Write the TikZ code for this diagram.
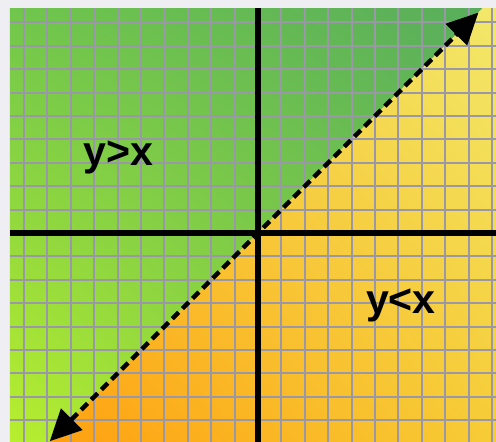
\documentclass[tikz,border=0pt]{standalone}
\usepackage{fontspec}
\newfontfamily\regionfont{Liberation Sans}
\usetikzlibrary{arrows.meta, shadings}

\definecolor{backdrop}{HTML}{EEEEF3}
\definecolor{gridgray}{HTML}{9A98A6}
\definecolor{greendark}{HTML}{58AD5C}
\definecolor{greenmid}{HTML}{70C64C}
\definecolor{greenlime}{HTML}{B8EE2E}
\definecolor{yellowpale}{HTML}{F2E86A}
\definecolor{yellowmid}{HTML}{F6CC36}
\definecolor{orangedeep}{HTML}{FFA010}

\begin{document}
\begin{tikzpicture}[
    x=0.5cm, y=0.5cm,
    gridline/.style={draw=gridgray, line width=1.3pt},
    axis/.style={draw=black, line width=3.6pt},
    boundary/.style={
        {Triangle[length=19pt, width=18pt]}-{Triangle[length=19pt, width=18pt]},
        draw=black, line width=2.6pt, dash pattern=on 5.5pt off 3.2pt
    },
    region/.style={
        font=\regionfont\bfseries\fontsize{25}{25}\selectfont,
        text=black, anchor=base
    }
]
% frame of the picture
\fill[backdrop] (-11.026,-8.932) rectangle (10.171,9.957);
\useasboundingbox (-11.026,-8.932) rectangle (10.171,9.957);

\coordinate (nw) at (-10.6,9.615);
\coordinate (se) at (10.171,-8.932);
\coordinate (ytop) at (0,9.615);
\coordinate (ybot) at (0,-8.932);
\coordinate (xleft) at (-10.6,0);
\coordinate (xright) at (10.171,0);
\coordinate (lo) at (-8.9,-8.9);
\coordinate (hi) at (9.42,9.42);

\begin{scope}
\clip (nw) rectangle (se);
% y > x half
\shade[upper left=greenmid, upper right=greendark,
       lower left=greenlime, lower right=greenmid]
    (-10.6,9.615) -- (9.615,9.615) -- (-8.932,-8.932)
    -- (-10.6,-8.932) -- cycle;
% y < x half
\shade[upper left=yellowmid, upper right=yellowpale,
       lower left=orangedeep, lower right=yellowmid]
    (9.615,9.615) -- (10.171,9.615) -- (10.171,-8.932)
    -- (-8.932,-8.932) -- cycle;

% grid
\foreach \gx in {-10,...,10}
    \draw[gridline] (\gx,-8.932) -- (\gx,9.615);
\foreach \gy in {-8,...,9}
    \draw[gridline] (-10.6,\gy) -- (10.171,\gy);

\draw[axis] (ytop) -- (ybot);
\draw[axis] (xleft) -- (xright);
\end{scope}

\draw[boundary] (lo) -- (hi);

\node[region] (above) at (-5.98,2.9) {y>x};
\node[region] (below) at (6.11,-3.42) {y<x};
\end{tikzpicture}
\end{document}
